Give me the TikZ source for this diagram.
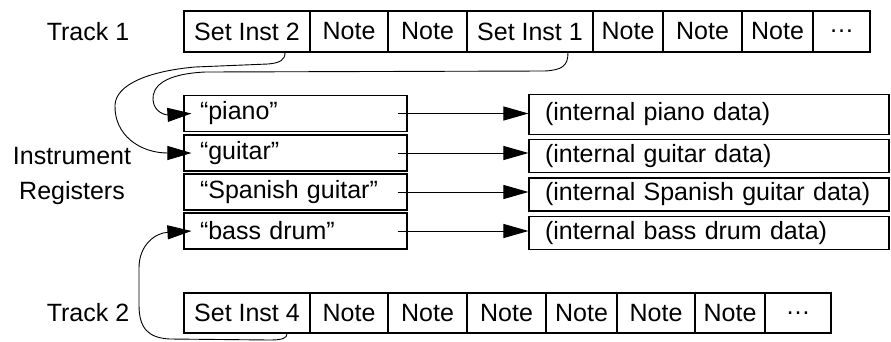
\documentclass[tikz,border=0pt]{standalone}
\usepackage{fontspec}
\setmainfont{Liberation Sans}
\usepackage{tikz}
\usetikzlibrary{arrows.meta}

\begin{document}
\begin{tikzpicture}[x=1pt, y=-1pt,
    font=\fontsize{25}{29}\selectfont,
    cell/.style={shape=rectangle, draw=black, line width=1.1pt, inner sep=0pt, minimum height=41pt},
    reg/.style={shape=rectangle, draw=black, line width=1.1pt, minimum width=223pt, minimum height=36pt, text width=191pt, inner xsep=16pt, inner ysep=0pt, align=left},
    dat/.style={shape=rectangle, draw=black, line width=1.1pt, minimum height=33pt, text width=328pt, inner xsep=16pt, inner ysep=0pt, align=left},
    link/.style={-{Triangle[length=25pt,width=14pt]}, line width=1pt},
    wire/.style={-{Triangle[length=24pt,width=14pt]}, line width=0.9pt}]

    \useasboundingbox (0,0) rectangle (891,341);

    % labels
    \node (track1) at (88,32) {Track 1};
    \node[align=center, font=\fontsize{25}{35}\selectfont] (registers) at (72,176) {Instrument\\Registers};
    \node (track2) at (88,313) {Track 2};

    % track 1
    \node[cell, minimum width=126pt] (si2) at (247, 31.5)   {Set Inst 2};
    \node[cell, minimum width=78pt]  (n1a) at (349, 31.5)   {Note};
    \node[cell, minimum width=79pt]  (n1b) at (427.5, 31.5) {Note};
    \node[cell, minimum width=126pt] (si1) at (530, 31.5)   {Set Inst 1};
    \node[cell, minimum width=70pt]  (n1c) at (628, 31.5)   {Note};
    \node[cell, minimum width=79pt]  (n1d) at (702.5, 31.5) {Note};
    \node[cell, minimum width=71pt]  (n1e) at (777.5, 31.5) {Note};
    \node[cell, minimum width=57pt]  (d1)  at (841.5, 31.5) {…};

    % track 2
    \node[cell, minimum width=126pt, minimum height=40pt] (si4) at (247, 313)   {Set Inst 4};
    \node[cell, minimum width=78pt, minimum height=40pt]  (n2a) at (349, 313)   {Note};
    \node[cell, minimum width=79pt, minimum height=40pt]  (n2b) at (427.5, 313) {Note};
    \node[cell, minimum width=79pt, minimum height=40pt]  (n2c) at (506.5, 313) {Note};
    \node[cell, minimum width=71pt, minimum height=40pt]  (n2d) at (581.5, 313) {Note};
    \node[cell, minimum width=78pt, minimum height=40pt]  (n2e) at (656, 313)   {Note};
    \node[cell, minimum width=70pt, minimum height=40pt]  (n2f) at (730, 313)   {Note};
    \node[cell, minimum width=66pt, minimum height=40pt]  (d2)  at (798, 313)   {…};

    % registers
    \node[reg] (rpiano)   at (295.5, 113.5) {“piano”};
    \node[reg] (rguitar)  at (295.5, 153)   {“guitar”};
    \node[reg] (rspanish) at (295.5, 192)   {“Spanish guitar”};
    \node[reg] (rbass)    at (295.5, 231)   {“bass drum”};

    % instrument data
    \node[dat, minimum height=40pt] (dpiano) at (709, 114.5) {(internal piano data)};
    \node[dat] (dguitar)  at (709, 156)   {(internal guitar data)};
    \node[dat] (dspanish) at (709, 194.5) {(internal Spanish guitar data)};
    \node[dat] (dbass)    at (709, 233)   {(internal bass drum data)};

    \path[link] ([xshift=-10pt]rpiano.east)   edge (rpiano.east -| dpiano.west);
    \path[link] ([xshift=-10pt]rguitar.east)  edge (rguitar.east -| dguitar.west);
    \path[link] ([xshift=-10pt]rspanish.east) edge (rspanish.east -| dspanish.west);
    \path[link] ([xshift=-10pt]rbass.east)    edge (rbass.east -| dbass.west);

    % set-instrument links
    \draw[wire] ([xshift=38pt]si1.south) .. controls (568,66) and (562,70) .. (545,71)
        -- (205,72) .. controls (165,74) and (152,86) .. (153,100)
        .. controls (154,112) and (165,115) .. ([xshift=8pt]rpiano.west);
    \draw[wire] ([xshift=38pt]si2.south) .. controls (285,60) and (280,63) .. (268,64)
        -- (195,67) .. controls (150,71) and (116,84) .. (115,105)
        .. controls (114,135) and (140,153) .. ([xshift=8pt]rguitar.west);
    \draw[wire] ([xshift=40pt]si4.south) .. controls (287,338) and (283,340) .. (270,340)
        -- (170,339) .. controls (148,338) and (139,328) .. (139,305)
        -- (139,268) .. controls (139,245) and (155,233) .. ([xshift=8pt]rbass.west);

\end{tikzpicture}
\end{document}
